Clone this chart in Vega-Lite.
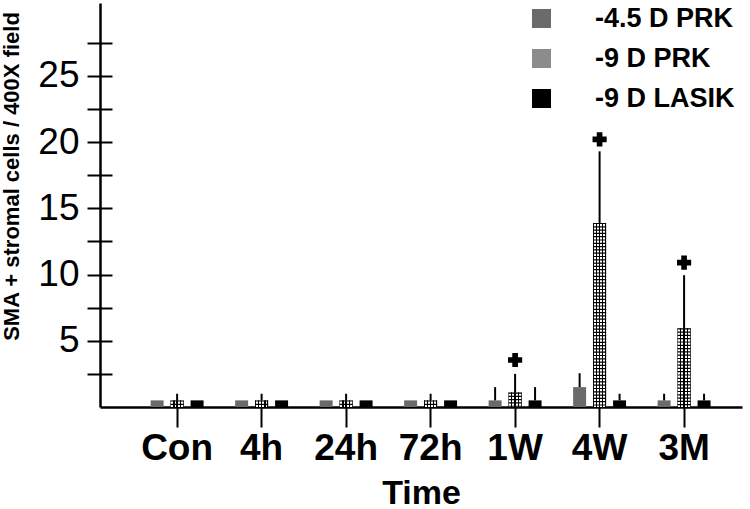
{
  "$schema": "https://vega.github.io/schema/vega-lite/v6.json",
  "autosize": {"type": "none"},
  "padding": {"left": 100, "top": 3, "right": 8, "bottom": 102},
  "width": 642,
  "height": 404,
  "background": "white",
  "config": {"view": {"stroke": null}, "font": "Liberation Sans"},
  "data": {
    "values": [
      {"time": "Con", "group": "-4.5 D PRK", "value": 0.5, "err": null, "star": null},
      {"time": "Con", "group": "-9 D PRK", "value": 0.5, "err": 1.0, "star": null},
      {"time": "Con", "group": "-9 D LASIK", "value": 0.5, "err": null, "star": null},
      {"time": "4h", "group": "-4.5 D PRK", "value": 0.5, "err": null, "star": null},
      {"time": "4h", "group": "-9 D PRK", "value": 0.5, "err": 1.0, "star": null},
      {"time": "4h", "group": "-9 D LASIK", "value": 0.5, "err": null, "star": null},
      {"time": "24h", "group": "-4.5 D PRK", "value": 0.5, "err": null, "star": null},
      {"time": "24h", "group": "-9 D PRK", "value": 0.5, "err": 1.0, "star": null},
      {"time": "24h", "group": "-9 D LASIK", "value": 0.5, "err": null, "star": null},
      {"time": "72h", "group": "-4.5 D PRK", "value": 0.5, "err": null, "star": null},
      {"time": "72h", "group": "-9 D PRK", "value": 0.5, "err": 1.0, "star": null},
      {"time": "72h", "group": "-9 D LASIK", "value": 0.5, "err": null, "star": null},
      {"time": "1W", "group": "-4.5 D PRK", "value": 0.5, "err": 1.5, "star": null},
      {"time": "1W", "group": "-9 D PRK", "value": 1.1, "err": 2.5, "star": 3.55},
      {"time": "1W", "group": "-9 D LASIK", "value": 0.5, "err": 1.5, "star": null},
      {"time": "4W", "group": "-4.5 D PRK", "value": 1.5, "err": 2.55, "star": null},
      {"time": "4W", "group": "-9 D PRK", "value": 13.9, "err": 19.3, "star": 20.2},
      {"time": "4W", "group": "-9 D LASIK", "value": 0.5, "err": 1.0, "star": null},
      {"time": "3M", "group": "-4.5 D PRK", "value": 0.5, "err": 1.0, "star": null},
      {"time": "3M", "group": "-9 D PRK", "value": 5.95, "err": 9.95, "star": 10.9},
      {"time": "3M", "group": "-9 D LASIK", "value": 0.5, "err": 1.0, "star": null}
    ]
  },
  "encoding": {
    "x": {
      "field": "time", "type": "nominal", "sort": ["Con", "4h", "24h", "72h", "1W", "4W", "3M"],
      "scale": {"paddingInner": 0, "paddingOuter": 0.299, "align": 0.69},
      "axis": {
        "title": "Time", "titleFontSize": 34, "titleFontWeight": "bold", "titleColor": "black",
        "titleY": 96, "titleBaseline": "alphabetic",
        "labelAngle": 0, "labelFontSize": 37, "labelFontWeight": "bold", "labelColor": "black", "labelPadding": 3,
        "domainColor": "black", "domainWidth": 2.5, "tickColor": "black", "tickWidth": 2, "tickSize": 20,
        "grid": false
      }
    },
    "xOffset": {
      "field": "group", "type": "nominal",
      "scale": {"domain": ["-4.5 D PRK", "-9 D PRK", "-9 D LASIK"], "paddingInner": 0.35, "paddingOuter": 0.79}
    }
  },
  "layer": [
    {
      "mark": {"type": "bar"},
      "encoding": {
        "y": {
          "field": "value", "type": "quantitative",
          "scale": {"domain": [0, 30.5], "nice": false},
          "axis": {
            "orient": "left", "title": "SMA + stromal cells / 400X field",
            "titleFontSize": 22, "titleFontWeight": "bold", "titleColor": "black",
            "titleX": -82, "titleY": 173, "titleAngle": -90, "titleAlign": "center", "titleBaseline": "alphabetic",
            "domainColor": "black", "domainWidth": 2.5, "ticks": false, "labels": false, "grid": false
          }
        },
        "fill": {
          "field": "group", "type": "nominal",
          "scale": {
            "domain": ["-4.5 D PRK", "-9 D PRK", "-9 D LASIK"],
            "range": ["#6b6b6b", "#8c8c8c", "#000000"]
          },
          "legend": {
            "title": null, "orient": "none", "legendX": 428, "legendY": 2, "padding": 0,
            "symbolType": "square", "symbolSize": 360, "symbolStrokeWidth": 0,
            "labelFontSize": 27, "labelFontWeight": "bold", "labelColor": "black", "labelOffset": 40,
            "rowPadding": 12
          }
        }
      }
    },
    {
      "transform": [{"filter": "datum.group === '-9 D PRK'"}],
      "mark": {
        "type": "bar",
        "fill": {"gradient": "linear", "x1": 0, "y1": 0, "x2": 1, "y2": 0, "stops": [
          {"offset": 0, "color": "#000"}, {"offset": 0.05, "color": "#000"},
          {"offset": 0.05, "color": "#fff"}, {"offset": 0.2, "color": "#fff"},
          {"offset": 0.2, "color": "#000"}, {"offset": 0.3, "color": "#000"},
          {"offset": 0.3, "color": "#fff"}, {"offset": 0.45, "color": "#fff"},
          {"offset": 0.45, "color": "#000"}, {"offset": 0.55, "color": "#000"},
          {"offset": 0.55, "color": "#fff"}, {"offset": 0.7, "color": "#fff"},
          {"offset": 0.7, "color": "#000"}, {"offset": 0.8, "color": "#000"},
          {"offset": 0.8, "color": "#fff"}, {"offset": 0.95, "color": "#fff"},
          {"offset": 0.95, "color": "#000"}, {"offset": 1, "color": "#000"}
        ]}
      },
      "encoding": {
        "y": {"field": "value", "type": "quantitative", "axis": null}
      }
    },
    {
      "transform": [{"filter": "datum.group === '-9 D PRK'"}],
      "mark": {"type": "rule", "color": "black", "strokeWidth": 13, "strokeDash": [1.2, 2.1], "strokeCap": "butt"},
      "encoding": {
        "y": {"field": "value", "type": "quantitative", "axis": null},
        "y2": {"datum": 0}
      }
    },
    {
      "transform": [{"filter": "datum.err != null"}],
      "mark": {"type": "rule", "color": "black", "strokeWidth": 2},
      "encoding": {
        "y": {
          "field": "value", "type": "quantitative",
          "axis": {
            "orient": "left", "offset": -12, "domain": false, "grid": false,
            "values": [2.5, 5, 7.5, 10, 12.5, 15, 17.5, 20, 22.5, 25, 27.5],
            "tickColor": "black", "tickWidth": 2, "tickSize": 25,
            "labelExpr": "datum.value % 5 === 0 ? datum.label : ''",
            "labelFontSize": 37, "labelColor": "black", "labelPadding": 8,
            "labelOverlap": false, "labelFlush": false, "labelBound": false,
            "title": null
          }
        },
        "y2": {"field": "err"}
      }
    },
    {
      "transform": [{"filter": "datum.star != null"}],
      "mark": {"type": "point", "shape": "cross", "filled": true, "color": "black", "size": 200, "opacity": 1},
      "encoding": {
        "y": {"field": "star", "type": "quantitative", "axis": null}
      }
    }
  ],
  "resolve": {"axis": {"y": "independent"}}
}
